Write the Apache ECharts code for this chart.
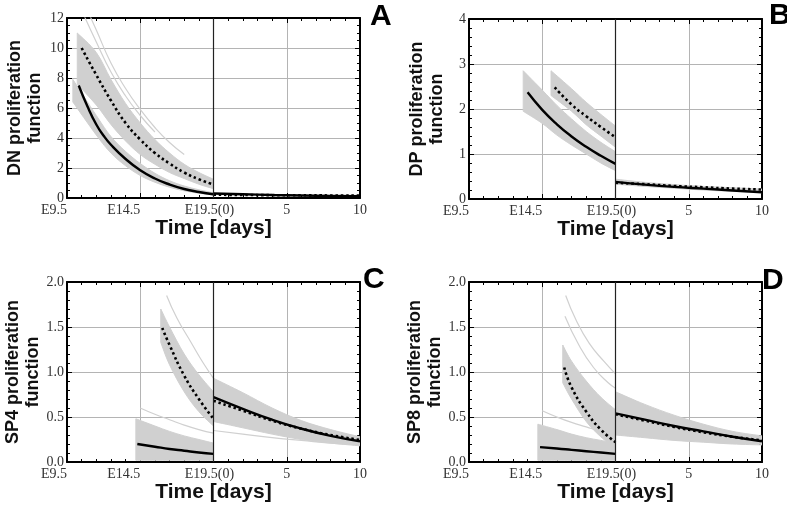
<!DOCTYPE html>
<html>
<head>
<meta charset="utf-8">
<script src="https://cdn.jsdelivr.net/npm/echarts@6.0.0/dist/echarts.min.js"></script>
<style>
  html, body { margin:0; padding:0; background:#fff; }
  #main { width:787px; height:508px; }
</style>
</head>
<body>
<div id="main"></div>
<script>
// x tick values (days) and their labels
var xTicks = [-10, -5, 0, 5, 10];
var xTickLabels = ['E9.5', 'E14.5', 'E19.5(0)', '5', '10'];

// panel A : DN
var dnPreSolidDays = [-9.2, -8.6, -8, -7.5, -7, -6, -5, -4, -3, -2, -1, 0];
var dnPreSolid = [7.5, 6.1, 4.9, 4.15, 3.55, 2.6, 1.85, 1.3, 0.9, 0.6, 0.4, 0.25];
var dnPreDottedDays = [-9, -8, -7, -6, -5, -4, -3, -2, -1, 0];
var dnPreDotted = [10, 8.2, 6.5, 5.0, 3.9, 3.0, 2.3, 1.7, 1.25, 0.9];
var dnBandDotDays = [-9.3, -8, -7, -6, -5, -4, -3, -2, -1, 0];
var dnBandDotLo = [7.6, 6.2, 4.9, 3.8, 2.9, 2.25, 1.7, 1.3, 0.92, 0.62];
var dnBandDotHi = [11.0, 9.7, 7.9, 6.3, 5.0, 3.9, 3.0, 2.25, 1.7, 1.25];
var dnBandSolDays = [-9.6, -8, -7, -6, -5, -4, -3, -2, -1, 0];
var dnBandSolLo = [6.4, 4.2, 3.0, 2.15, 1.5, 1.05, 0.72, 0.48, 0.32, 0.2];
var dnBandSolHi = [7.9, 5.5, 4.1, 3.1, 2.3, 1.65, 1.15, 0.8, 0.55, 0.35];
var dnStray1Days = [-8.6, -8, -7, -6, -5, -4, -3, -2];
var dnStray1 = [12.5, 11.2, 9.0, 7.3, 5.9, 4.7, 3.7, 2.9];
var dnStray2Days = [-8.9, -8, -7, -6, -5, -4];
var dnStray2 = [12.3, 10.4, 8.4, 6.8, 5.5, 4.4];
var dnPostDays = [0, 2, 4, 6, 8, 10];
var dnPostSolid = [0.3, 0.25, 0.2, 0.17, 0.14, 0.12];
var dnPostDotted = [0.22, 0.2, 0.19, 0.18, 0.17, 0.16];

// panel B : DP
var dpPreSolidDays = [-6, -5, -4, -3, -2, -1, 0];
var dpPreSolid = [2.37, 1.98, 1.66, 1.39, 1.16, 0.96, 0.78];
var dpPreDottedDays = [-4.15, -3, -2, -1, 0];
var dpPreDotted = [2.48, 2.1, 1.84, 1.6, 1.37];
var dpBandSolDays = [-6.3, -5, -4, -3, -2, -1, 0];
var dpBandSolLo = [1.95, 1.68, 1.42, 1.2, 1.0, 0.8, 0.63];
var dpBandSolHi = [2.85, 2.42, 2.08, 1.78, 1.5, 1.26, 1.05];
var dpBandDotDays = [-4.4, -3, -2, -1, 0];
var dpBandDotLo = [2.3, 1.95, 1.65, 1.4, 1.15];
var dpBandDotHi = [2.85, 2.45, 2.15, 1.88, 1.62];
var dpPostDays = [0, 2, 4, 6, 8, 10];
var dpPostSolid = [0.38, 0.32, 0.27, 0.23, 0.19, 0.15];
var dpPostDotted = [0.36, 0.33, 0.29, 0.26, 0.23, 0.21];
var dpPostBandLo = [0.33, 0.28, 0.24, 0.2, 0.17, 0.14];
var dpPostBandHi = [0.44, 0.37, 0.32, 0.28, 0.25, 0.22];

// panel C : SP4
var sp4PreSolidDays = [-5.2, -4, -3, -2, -1, 0];
var sp4PreSolid = [0.2, 0.17, 0.145, 0.125, 0.105, 0.09];
var sp4PreDottedDays = [-3.5, -3, -2, -1, 0];
var sp4PreDotted = [1.49, 1.3, 0.96, 0.7, 0.48];
var sp4BandDotDays = [-3.6, -3, -2, -1, 0];
var sp4BandDotLo = [1.33, 1.08, 0.78, 0.56, 0.4];
var sp4BandDotHi = [1.7, 1.5, 1.2, 0.97, 0.78];
var sp4BandSolDays = [-5.3, -4, -3, -2, -1, 0];
var sp4BandSolLo = [0.02, 0.02, 0.02, 0.02, 0.02, 0.02];
var sp4BandSolHi = [0.48, 0.4, 0.34, 0.29, 0.25, 0.21];
var sp4Stray1Days = [-3.2, -2.5, -1.5, -0.7, 0];
var sp4Stray1 = [1.85, 1.6, 1.32, 1.1, 0.93];
var sp4Stray2Days = [-5, -4, -3, -2, -1, 0];
var sp4Stray2 = [0.6, 0.53, 0.47, 0.41, 0.36, 0.32];
var sp4PostDays = [0, 2, 4, 6, 8, 10];
var sp4PostSolid = [0.72, 0.59, 0.47, 0.37, 0.29, 0.23];
var sp4PostDotted = [0.68, 0.57, 0.46, 0.37, 0.3, 0.245];
var sp4PostBandLo = [0.45, 0.38, 0.31, 0.25, 0.21, 0.18];
var sp4PostBandHi = [0.93, 0.77, 0.6, 0.46, 0.36, 0.28];
var sp4PostStray = [0.35, 0.31, 0.27, 0.24, 0.21, 0.19];

// panel D : SP8
var sp8PreSolidDays = [-5.15, -4, -3, -2, -1, 0];
var sp8PreSolid = [0.165, 0.15, 0.135, 0.12, 0.105, 0.09];
var sp8PreDottedDays = [-3.5, -3, -2, -1, 0];
var sp8PreDotted = [1.05, 0.83, 0.56, 0.36, 0.22];
var sp8BandDotDays = [-3.6, -3, -2, -1, 0];
var sp8BandDotLo = [0.88, 0.7, 0.45, 0.28, 0.15];
var sp8BandDotHi = [1.3, 1.12, 0.9, 0.72, 0.58];
var sp8BandSolDays = [-5.3, -4, -3, -2, -1, 0];
var sp8BandSolLo = [0.02, 0.02, 0.02, 0.02, 0.02, 0.02];
var sp8BandSolHi = [0.42, 0.36, 0.31, 0.27, 0.24, 0.21];
var sp8Stray1Days = [-3.4, -2.7, -1.8, -0.8, 0];
var sp8Stray1 = [1.85, 1.58, 1.32, 1.12, 0.98];
var sp8Stray2Days = [-3.45, -2.5, -1.5, -0.5, 0];
var sp8Stray2 = [1.62, 1.3, 1.05, 0.88, 0.82];
var sp8Stray3Days = [-5, -4, -3, -2, -1, 0];
var sp8Stray3 = [0.57, 0.5, 0.44, 0.39, 0.34, 0.3];
var sp8PostDays = [0, 2, 4, 6, 8, 10];
var sp8PostSolid = [0.54, 0.47, 0.4, 0.34, 0.28, 0.23];
var sp8PostDotted = [0.53, 0.46, 0.39, 0.33, 0.28, 0.24];
var sp8PostBandLo = [0.3, 0.27, 0.24, 0.22, 0.2, 0.19];
var sp8PostBandHi = [0.78, 0.64, 0.52, 0.42, 0.34, 0.29];

var GREY = '#d0d0d0';
var serif = 'Liberation Serif';
var sans = 'Liberation Sans';

var grids = [
    {left:67, top:18, width:293, height:180},
    {left:469, top:19, width:293, height:180},
    {left:67, top:282, width:293, height:180},
    {left:469, top:282, width:293, height:180}
];
var yCfg = [
    {max:12, interval:2, minor:4, dec:0, name:'DN proliferation\nfunction'},
    {max:4, interval:1, minor:5, dec:0, name:'DP proliferation\nfunction'},
    {max:2, interval:0.5, minor:5, dec:1, name:'SP4 proliferation\nfunction'},
    {max:2, interval:0.5, minor:5, dec:1, name:'SP8 proliferation\nfunction'}
];
// extra right padding so the labels sit like the original
var xLabelPad = [26, 33, 8, 0, 0];

function pairs(xs, ys){
    return xs.map(function(x, i){ return [x, ys[i]]; });
}

var xAxis = [], yAxis = [], series = [];

grids.forEach(function(g, gi){
    var tick = {inside:true, length:5, lineStyle:{color:'#000', width:1}};
    var frame = {show:true, onZero:false, lineStyle:{color:'#000', width:2}};
    var rich = {};
    xTickLabels.forEach(function(l, i){
        rich['p' + i] = {fontFamily:serif, fontSize:14, color:'#333', padding:[0, xLabelPad[i], 0, 0]};
    });
    xAxis.push({
        type:'value', gridIndex:gi, min:-10, max:10, interval:5, position:'bottom',
        axisLine:frame, axisTick:tick,
        minorTick:{show:true, splitNumber:5, length:3, lineStyle:{color:'#000'}},
        axisLabel:{margin:5, fontFamily:serif, fontSize:14, color:'#333', rich:rich,
            formatter:function(v){
                var i = xTicks.indexOf(v);
                return '{p' + i + '|' + xTickLabels[i] + '}';
            }},
        splitLine:{show:true, lineStyle:{color:'#b4b4b4', width:1}},
        name:'Time [days]', nameLocation:'middle', nameGap:20,
        nameTextStyle:{fontFamily:sans, fontWeight:'bold', fontSize:21, color:'#111'}
    });
    xAxis.push({
        type:'value', gridIndex:gi, min:-10, max:10, interval:5, position:'top',
        axisLine:frame, axisTick:tick,
        minorTick:{show:true, splitNumber:5, length:3, lineStyle:{color:'#000'}},
        axisLabel:{show:false}, splitLine:{show:false}
    });
    var c = yCfg[gi];
    yAxis.push({
        type:'value', gridIndex:gi, min:0, max:c.max, interval:c.interval, position:'left',
        axisLine:frame, axisTick:tick,
        minorTick:{show:true, splitNumber:c.minor, length:3, lineStyle:{color:'#000'}},
        axisLabel:{margin:3, fontFamily:serif, fontSize:14, color:'#333',
            formatter:function(v){ return v.toFixed(c.dec); }},
        splitLine:{show:true, lineStyle:{color:'#b4b4b4', width:1}},
        name:c.name, nameLocation:'middle', nameGap:22, nameRotate:90,
        nameTextStyle:{fontFamily:sans, fontWeight:'bold', fontSize:18, lineHeight:20, color:'#111'}
    });
    yAxis.push({
        type:'value', gridIndex:gi, min:0, max:c.max, interval:c.interval, position:'right',
        axisLine:frame, axisTick:tick,
        minorTick:{show:true, splitNumber:c.minor, length:3, lineStyle:{color:'#000'}},
        axisLabel:{show:false}, splitLine:{show:false}
    });
});

function ax(gi){ return {xAxisIndex:gi * 2, yAxisIndex:gi * 2}; }

// bezier segments through pixel points (catmull-rom style)
function smoothPath(pts, first){
    var d = first ? 'M' + pts[0][0] + ',' + pts[0][1] : 'L' + pts[0][0] + ',' + pts[0][1];
    var k = 0.18;
    for (var i = 0; i < pts.length - 1; i++) {
        var p0 = pts[Math.max(i - 1, 0)], p1 = pts[i], p2 = pts[i + 1], p3 = pts[Math.min(i + 2, pts.length - 1)];
        var c1 = [p1[0] + (p2[0] - p0[0]) * k, p1[1] + (p2[1] - p0[1]) * k];
        var c2 = [p2[0] - (p3[0] - p1[0]) * k, p2[1] - (p3[1] - p1[1]) * k];
        d += 'C' + c1[0] + ',' + c1[1] + ' ' + c2[0] + ',' + c2[1] + ' ' + p2[0] + ',' + p2[1];
    }
    return d;
}

// grey band between two read curves, drawn through api.coord
function band(gi, xs, lo, hi){
    var a = ax(gi);
    var rows = xs.map(function(x, i){ return [x, lo[i], hi[i]]; });
    series.push({
        type:'custom', xAxisIndex:a.xAxisIndex, yAxisIndex:a.yAxisIndex,
        silent:true, z:1,
        data:rows,
        encode:{x:0, y:[1, 2]},
        renderItem:function(params, api){
            if (params.dataIndex !== 0) return null;
            var top = rows.map(function(r){ return api.coord([r[0], r[2]]); });
            var bottom = rows.map(function(r){ return api.coord([r[0], r[1]]); }).reverse();
            var cs = params.coordSys;
            return {
                type:'group',
                children:[{
                    type:'path',
                    shape:{pathData:smoothPath(top, true) + smoothPath(bottom, false) + 'Z'},
                    style:{fill:GREY, stroke:GREY, lineWidth:1}
                }],
                clipPath:{type:'rect', shape:{x:cs.x, y:cs.y, width:cs.width, height:cs.height}}
            };
        }
    });
}

function curve(gi, xs, ys, kind){
    var a = ax(gi);
    var style;
    if (kind == 'grey') style = {color:GREY, width:1.2};
    else if (kind == 'dot') style = {color:'#000', width:2.6, type:[2.5, 2.8]};
    else style = {color:'#000', width:2.4};
    series.push({
        type:'line', xAxisIndex:a.xAxisIndex, yAxisIndex:a.yAxisIndex,
        smooth:true, symbol:'none', silent:true, z:kind == 'grey' ? 1 : 3,
        lineStyle:style, data:pairs(xs, ys)
    });
}

// birth line at day 0
function birthLine(gi){
    var a = ax(gi);
    series.push({
        type:'line', xAxisIndex:a.xAxisIndex, yAxisIndex:a.yAxisIndex, data:[], z:2,
        markLine:{silent:true, symbol:'none', label:{show:false}, animation:false,
            lineStyle:{color:'#222', width:1.2, type:'solid'}, data:[{xAxis:0}]}
    });
}

// A
band(0, dnBandDotDays, dnBandDotLo, dnBandDotHi);
band(0, dnBandSolDays, dnBandSolLo, dnBandSolHi);
curve(0, dnStray1Days, dnStray1, 'grey');
curve(0, dnStray2Days, dnStray2, 'grey');
birthLine(0);
curve(0, dnPreSolidDays, dnPreSolid, 'solid');
curve(0, dnPreDottedDays, dnPreDotted, 'dot');
curve(0, dnPostDays, dnPostDotted, 'dot');
curve(0, dnPostDays, dnPostSolid, 'solid');

// B
band(1, dpBandSolDays, dpBandSolLo, dpBandSolHi);
band(1, dpBandDotDays, dpBandDotLo, dpBandDotHi);
band(1, dpPostDays, dpPostBandLo, dpPostBandHi);
birthLine(1);
curve(1, dpPreSolidDays, dpPreSolid, 'solid');
curve(1, dpPreDottedDays, dpPreDotted, 'dot');
curve(1, dpPostDays, dpPostDotted, 'dot');
curve(1, dpPostDays, dpPostSolid, 'solid');

// C
band(2, sp4BandDotDays, sp4BandDotLo, sp4BandDotHi);
band(2, sp4BandSolDays, sp4BandSolLo, sp4BandSolHi);
band(2, sp4PostDays, sp4PostBandLo, sp4PostBandHi);
curve(2, sp4Stray1Days, sp4Stray1, 'grey');
curve(2, sp4Stray2Days, sp4Stray2, 'grey');
curve(2, sp4PostDays, sp4PostStray, 'grey');
birthLine(2);
curve(2, sp4PreSolidDays, sp4PreSolid, 'solid');
curve(2, sp4PreDottedDays, sp4PreDotted, 'dot');
curve(2, sp4PostDays, sp4PostDotted, 'dot');
curve(2, sp4PostDays, sp4PostSolid, 'solid');

// D
band(3, sp8BandDotDays, sp8BandDotLo, sp8BandDotHi);
band(3, sp8BandSolDays, sp8BandSolLo, sp8BandSolHi);
band(3, sp8PostDays, sp8PostBandLo, sp8PostBandHi);
curve(3, sp8Stray1Days, sp8Stray1, 'grey');
curve(3, sp8Stray2Days, sp8Stray2, 'grey');
curve(3, sp8Stray3Days, sp8Stray3, 'grey');
birthLine(3);
curve(3, sp8PreSolidDays, sp8PreSolid, 'solid');
curve(3, sp8PreDottedDays, sp8PreDotted, 'dot');
curve(3, sp8PostDays, sp8PostDotted, 'dot');
curve(3, sp8PostDays, sp8PostSolid, 'solid');

var letters = [['A', 370, 17], ['B', 769, 16], ['C', 363, 280], ['D', 762, 281]];

var option = {
    animation:false,
    backgroundColor:'#fff',
    grid:grids,
    xAxis:xAxis,
    yAxis:yAxis,
    series:series,
    graphic:letters.map(function(l){
        return {type:'text', x:l[1], y:l[2], z:10,
            style:{text:l[0], fontFamily:sans, fontWeight:'bold', fontSize:30, fill:'#000', verticalAlign:'middle'}};
    })
};

var chart = echarts.init(document.getElementById('main'));
chart.setOption(option);
</script>
</body>
</html>
